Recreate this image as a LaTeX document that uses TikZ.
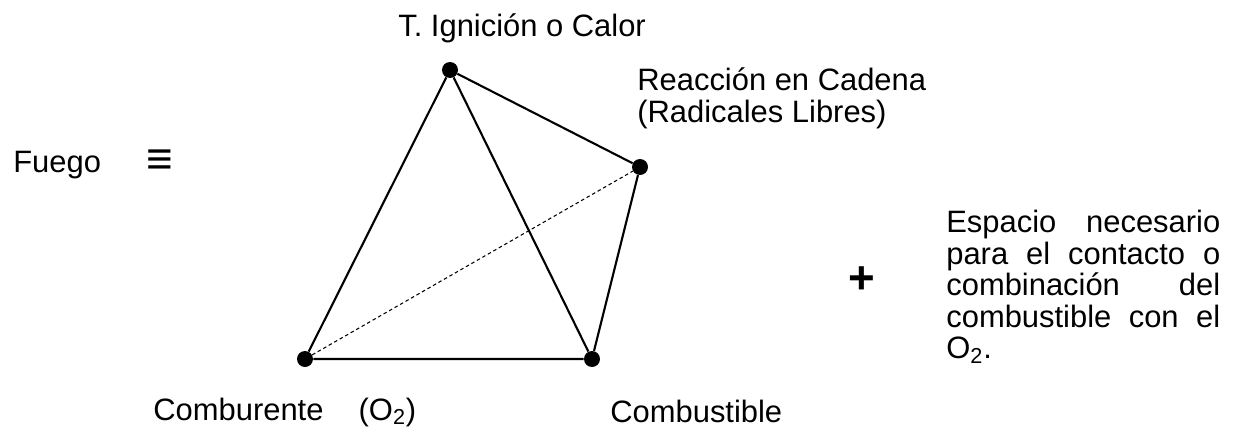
\documentclass[tikz,border=0pt]{standalone}
\usepackage{fontspec}
\setmainfont{Liberation Sans}
\usetikzlibrary{positioning}
\begin{document}
\begin{tikzpicture}[x=0.02cm, y=-0.02cm,
  every node/.style={font=\fontsize{17.6}{17.9}\selectfont, inner sep=0pt},
  vertice/.style={circle, fill=black, minimum size=0.32cm},
  lado/.style={line width=1.2pt},
  oculto/.style={line width=0.6pt, dash pattern=on 2pt off 1.6pt}]
\useasboundingbox (0,0) rectangle (1235,433);
% vertices del tetraedro
\node[vertice] (calor) at (450,70) {};
\node[vertice] (reaccion) at (640,167) {};
\node[vertice] (comburente) at (305,359) {};
\node[vertice] (combustible) at (592,359) {};
\draw[oculto] (comburente) -- (reaccion);
\draw[lado] (calor) -- (comburente) -- (combustible) -- (reaccion) -- (calor) -- (combustible);
% rotulos
\node[anchor=base west] (lcalor) at (398,36) {T. Ignición o Calor};
\node[anchor=base west, align=left] (lreaccion) at (637,122) {Reacción en Cadena\\(Radicales Libres)};
\node[anchor=base west] (fuego) at (13,172) {Fuego};
\node (equiv) at (160,162) {\fontsize{26}{26}\selectfont\bfseries ≡};
\node (mas) at (862,280) {\fontsize{26}{26}\selectfont\bfseries +};
\node[anchor=north west, text width=5.48cm, align=left] (espacio) at (946,210)
  {Espacio\hfill necesario\\
   para\hfill el\hfill contacto\hfill o\\
   combinación\hfill del\\
   combustible\hfill con\hfill el\\
   O\textsubscript{2}.};
\node[anchor=base west] (lcomburente) at (153,420) {Comburente\hspace{20pt}(O\textsubscript{2})};
\node[anchor=base west] (lcombustible) at (610,422) {Combustible};
\end{tikzpicture}
\end{document}
